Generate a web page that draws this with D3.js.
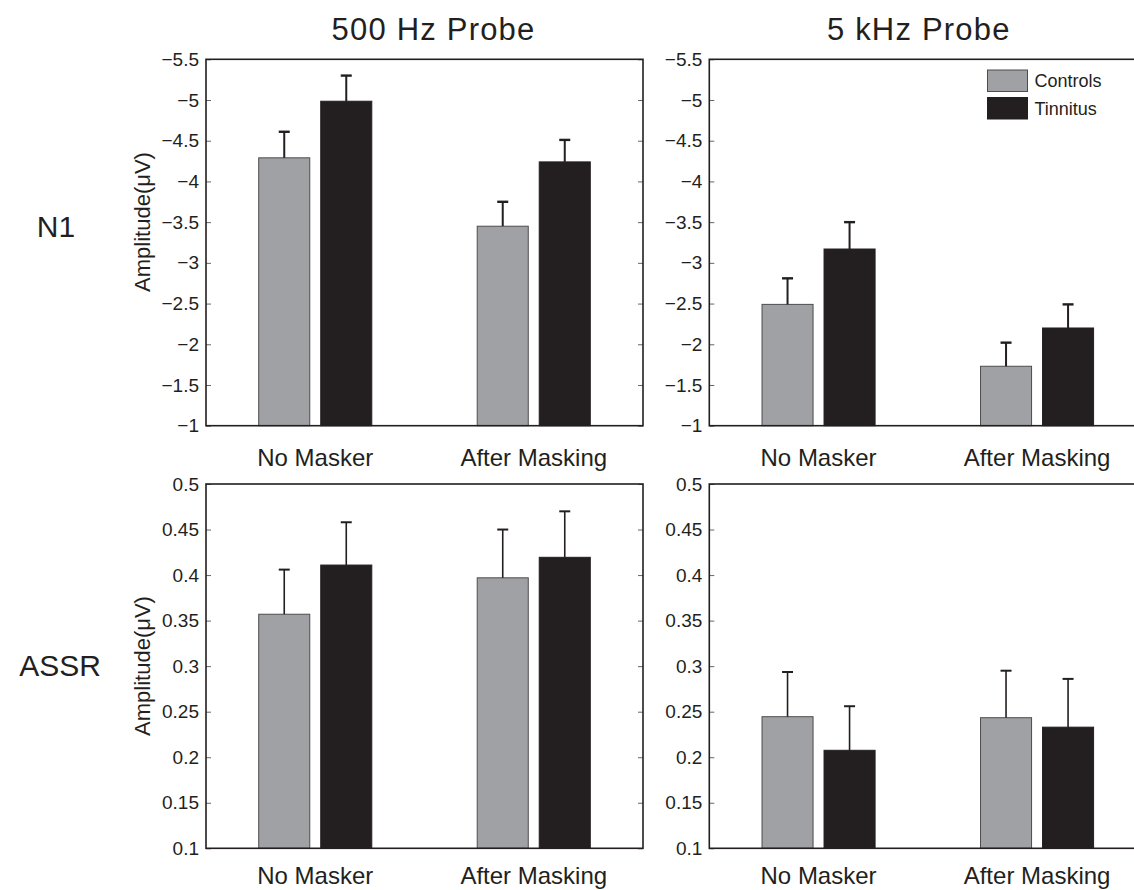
<!DOCTYPE html>
<html><head><meta charset="utf-8">
<script src="https://cdn.jsdelivr.net/npm/d3@7"></script>
<style>
body{margin:0;background:#fff;}
text{font-family:"Liberation Sans",Arial,Helvetica,sans-serif;fill:#231f20;}
</style></head>
<body><svg id="chart" width="1134" height="890"></svg>
<script>
// ---- data ----
const conditions = ["No Masker", "After Masking"];
const groups = ["Controls", "Tinnitus"];
const probes = ["500 Hz Probe", "5 kHz Probe"];
const measures = ["N1", "ASSR"];

// N1 amplitudes (µV), [condition][group]
const n1_500_mean = [[-4.29, -4.985], [-3.45, -4.24]];
const n1_500_err  = [[-4.61, -5.30], [-3.75, -4.51]];
const n1_5k_mean  = [[-2.49, -3.17], [-1.73, -2.20]];
const n1_5k_err   = [[-2.81, -3.50], [-2.02, -2.49]];
// ASSR amplitudes (µV)
const assr_500_mean = [[0.357, 0.411], [0.397, 0.4195]];
const assr_500_err  = [[0.406, 0.458], [0.450, 0.470]];
const assr_5k_mean  = [[0.2445, 0.2076], [0.2434, 0.233]];
const assr_5k_err   = [[0.2936, 0.256], [0.295, 0.286]];

const n1Ticks = [-5.5, -5, -4.5, -4, -3.5, -3, -2.5, -2, -1.5, -1];
const assrTicks = [0.1, 0.15, 0.2, 0.25, 0.3, 0.35, 0.4, 0.45, 0.5];
const n1Domain = [-1, -5.5];
const assrDomain = [0.1, 0.5];
const yLabel = "Amplitude(\u03bcV)";

// ---- layout ----
const svg = d3.select("#chart");
const colX = [[206, 643], [709.3, 1146.3]];
const rowY = [[59.3, 425.7], [484, 848.3]];
const colors = {Controls: "#a0a1a5", Tinnitus: "#231f20"};

const panels = [
  {r:0, c:0, mean:n1_500_mean, err:n1_500_err, ticks:n1Ticks, dom:n1Domain, ew:2},
  {r:0, c:1, mean:n1_5k_mean, err:n1_5k_err, ticks:n1Ticks, dom:n1Domain, ew:2, legend:true},
  {r:1, c:0, mean:assr_500_mean, err:assr_500_err, ticks:assrTicks, dom:assrDomain, ew:1.6},
  {r:1, c:1, mean:assr_5k_mean, err:assr_5k_err, ticks:assrTicks, dom:assrDomain, ew:1.6},
];

const fmt = v => (v < 0 ? "\u2212" : "") + String(Math.abs(v));

panels.forEach(p => {
  const [x0, x1] = colX[p.c];
  const [y0, y1] = rowY[p.r];
  const x = d3.scaleBand().domain(conditions).range([x0, x1]).padding(0);
  const xi = d3.scaleBand().domain(groups).range([0, x.bandwidth()])
    .paddingInner(0.177).paddingOuter(0.85);
  const y = d3.scaleLinear().domain(p.dom).range([y1, y0]);
  const g = svg.append("g");

  // bars
  conditions.forEach((cond, ci) => {
    groups.forEach((grp, gi) => {
      const bx = x(cond) + xi(grp);
      const bw = xi.bandwidth();
      const v = p.mean[ci][gi], e = p.err[ci][gi];
      g.append("rect")
        .attr("x", bx).attr("width", bw)
        .attr("y", y(v)).attr("height", y(p.dom[0]) - y(v))
        .attr("fill", colors[grp])
        .attr("stroke", gi === 0 ? "#4d4d4f" : "#231f20").attr("stroke-width", 1);
      const cx = bx + bw / 2;
      g.append("line").attr("x1", cx).attr("x2", cx)
        .attr("y1", y(v)).attr("y2", y(e))
        .attr("stroke", "#231f20").attr("stroke-width", p.ew);
      g.append("line").attr("x1", cx - 5.5).attr("x2", cx + 5.5)
        .attr("y1", y(e)).attr("y2", y(e))
        .attr("stroke", "#231f20").attr("stroke-width", p.ew + 0.4);
    });
  });

  // left axis
  const la = g.append("g").attr("transform", `translate(${x0},0)`)
    .call(d3.axisLeft(y).tickValues(p.ticks).tickSize(-5).tickPadding(7).tickFormat(fmt));
  la.select(".domain").remove();
  la.selectAll("line").attr("stroke", "#666").attr("stroke-width", 1);
  la.selectAll("text").attr("font-size", 19).attr("fill", "#231f20")
    .attr("font-family", "Liberation Sans, Arial, sans-serif");
  // right ticks
  const ra = g.append("g").attr("transform", `translate(${x1},0)`)
    .call(d3.axisRight(y).tickValues(p.ticks).tickSize(-5).tickFormat(""));
  ra.select(".domain").remove();
  ra.selectAll("line").attr("stroke", "#666").attr("stroke-width", 1);

  // box
  g.append("rect").attr("x", x0).attr("y", y0).attr("width", x1 - x0).attr("height", y1 - y0)
    .attr("fill", "none").attr("stroke", "#231f20").attr("stroke-width", 1.6);

  // x labels
  conditions.forEach(cond => {
    g.append("text").attr("x", x(cond) + x.bandwidth() / 2).attr("y", y1 + (p.r === 0 ? 40 : 36))
      .attr("text-anchor", "middle").attr("font-size", 24).text(cond);
  });

  // title
  if (p.r === 0) {
    svg.append("text").attr("x", (x0 + x1) / 2 + (p.c === 1 ? -9 : 9)).attr("y", 40)
      .attr("text-anchor", "middle").attr("font-size", 31).attr("letter-spacing", 1.2)
      .text(probes[p.c]);
  }
  // y label
  if (p.c === 0) {
    const cy = p.r === 0 ? 222 : 666;
    svg.append("text").attr("transform", `translate(150,${cy}) rotate(-90)`)
      .attr("text-anchor", "middle").attr("font-size", 22).text(yLabel);
    svg.append("text").attr("x", p.r === 0 ? 56 : 60).attr("y", p.r === 0 ? 237 : 676)
      .attr("text-anchor", "middle").attr("font-size", 30).text(measures[p.r]);
  }
  // legend
  if (p.legend) {
    groups.forEach((grp, gi) => {
      const ly = 70 + gi * 27.5;
      g.append("rect").attr("x", 987.5).attr("y", ly).attr("width", 40).attr("height", 21.5)
        .attr("fill", colors[grp]).attr("stroke", gi === 0 ? "#4d4d4f" : "#231f20").attr("stroke-width", 1);
      g.append("text").attr("x", 1034.5).attr("y", ly + 17).attr("font-size", 18).text(grp);
    });
  }
});
</script></body></html>
